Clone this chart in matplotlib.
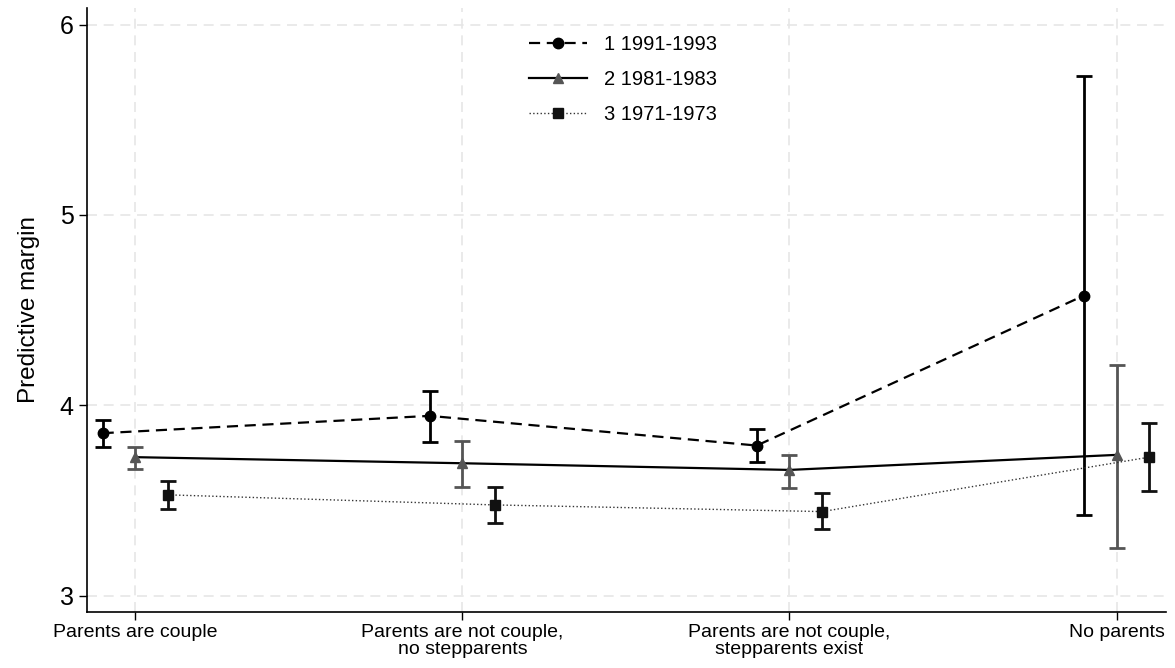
import numpy as np
import matplotlib.pyplot as plt

plt.rcParams['font.family'] = ['Liberation Sans', 'DejaVu Sans']

categories = ["Parents are couple", "Parents are not couple,\nno stepparents",
              "Parents are not couple,\nstepparents exist", "No parents"]
labels = ["1 1991-1993", "2 1981-1983", "3 1971-1973"]

m1 = [3.853, 3.944, 3.788, 4.576]
lo1 = [3.779, 3.809, 3.699, 3.424]
hi1 = [3.923, 4.074, 3.877, 5.730]

m2 = [3.727, 3.695, 3.660, 3.739]
lo2 = [3.667, 3.569, 3.566, 3.250]
hi2 = [3.781, 3.814, 3.737, 4.210]

m3 = [3.529, 3.476, 3.441, 3.727]
lo3 = [3.455, 3.380, 3.349, 3.550]
hi3 = [3.604, 3.569, 3.541, 3.905]

fig = plt.figure(figsize=(11.75, 6.68), dpi=100)
ax = fig.add_axes([0.074, 0.084, 0.918, 0.904])

x = np.arange(len(categories))
series = [
    (m1, lo1, hi1, -0.1, 'o', (0, (5, 3)), 'black', 'black', 1.6),
    (m2, lo2, hi2, 0.0, '^', '-', '#555555', 'black', 1.6),
    (m3, lo3, hi3, 0.1, 's', ':', '#111111', '#333333', 1.0),
]
for (m, lo, hi, off, mk, ls, mc, lc, lw), lab in zip(series, labels):
    m = np.array(m); lo = np.array(lo); hi = np.array(hi)
    xs = x + off
    ax.errorbar(xs, m, yerr=[m - lo, hi - m], fmt='none', ecolor=mc,
                elinewidth=2, capsize=6, capthick=2, zorder=3)
    ax.plot(xs, m, linestyle=ls, color=lc, linewidth=lw, marker=mk,
            markersize=7.5, markerfacecolor=mc, markeredgecolor=mc,
            label=lab, zorder=4)

ax.set_xlim(-0.148, 3.15)
ax.set_ylim(2.914, 6.087)
ax.set_xticks(x)
ax.set_xticklabels(categories, fontsize=14, linespacing=0.95)
ax.set_yticks([3, 4, 5, 6])
ax.tick_params(axis='y', labelsize=18, length=6, width=1)
ax.tick_params(axis='x', length=6, width=1, pad=3)
ax.set_ylabel("Predictive margin", fontsize=17.5, labelpad=14)

ax.grid(True, color='#e6e6e6', linestyle=(0, (6, 4)), linewidth=1.2)
ax.set_axisbelow(True)
for s in ['top', 'right']:
    ax.spines[s].set_visible(False)
for s in ['left', 'bottom']:
    ax.spines[s].set_linewidth(1.2)

ax.legend(loc='upper center', frameon=False, fontsize=14.5, handlelength=2.9,
          handletextpad=0.85, labelspacing=0.8, bbox_to_anchor=(0.497, 0.985))

fig.savefig("out.png", dpi=100)
